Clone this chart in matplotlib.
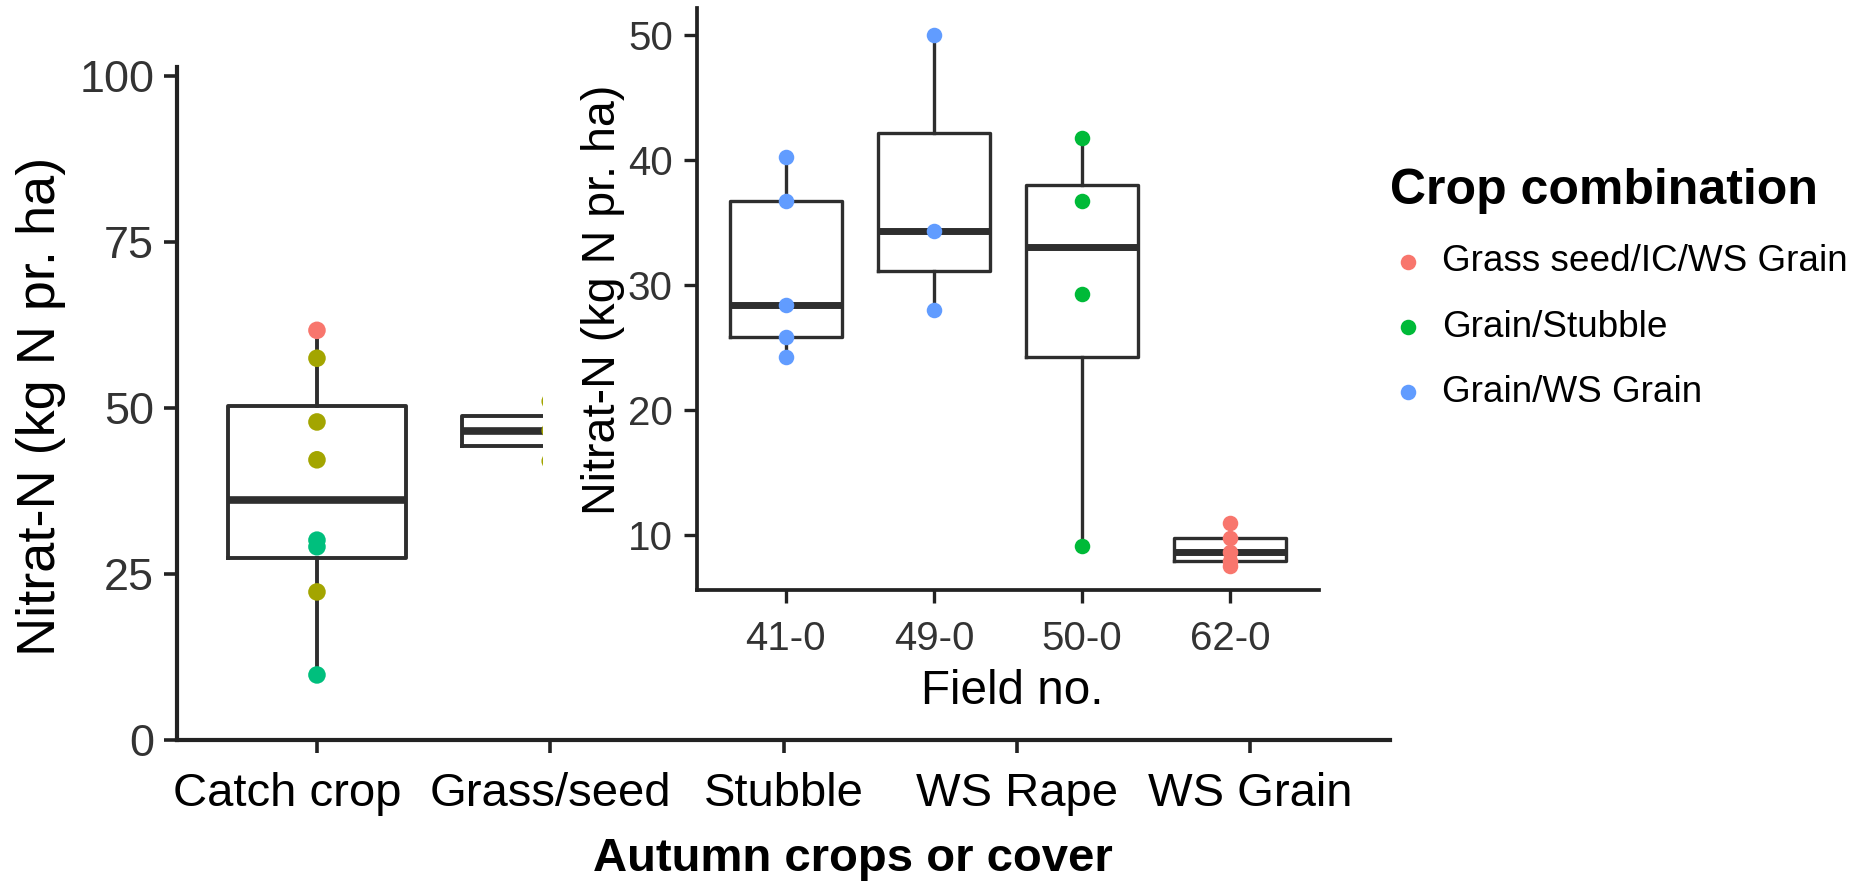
import matplotlib
matplotlib.use("Agg")
import matplotlib.pyplot as plt
import matplotlib.transforms as mtransforms
from matplotlib.patches import Rectangle

plt.rcParams['font.family'] = ['Liberation Sans', 'DejaVu Sans']

# ---------------- data ----------------
main_categories = ["Catch crop", "Grass/seed", "Stubble", "WS Rape", "WS Grain"]
main_yticks = [0, 25, 50, 75, 100]
catch_crop_values = [61.7, 57.5, 47.9, 42.2, 30.1, 29.1, 22.3, 9.8]
catch_crop_groups = [0, 1, 1, 1, 2, 2, 1, 2]
grass_seed_values = [51.0, 46.6, 42.0]
grass_seed_groups = [1, 1, 1]
main_palette = ["#F8766D", "#A3A500", "#00BF7D"]

inset_fields = ["41-0", "49-0", "50-0", "62-0"]
inset_yticks = [10, 20, 30, 40, 50]
field_41_0 = [40.2, 36.7, 28.4, 25.8, 24.2]
field_49_0 = [50.0, 34.3, 28.0]
field_50_0 = [41.8, 36.7, 29.3, 9.1]
field_62_0 = [11.0, 9.75, 8.65, 7.9, 7.5]
inset_field_groups = [2, 2, 1, 0]
legend_groups = ["Grass seed/IC/WS Grain", "Grain/Stubble", "Grain/WS Grain"]
legend_colors = ["#F8766D", "#00BA38", "#619CFF"]

# ---------------- figure ----------------
W, H = 1860, 882
fig = plt.figure(figsize=(W / 100, H / 100), dpi=100)

def fx(px):
    return px / W

def fy(py):
    return 1 - py / H

box_col = "#2e2e2e"
tick_col = "#333333"

# ---------- main axes ----------
ax = fig.add_axes([fx(177), fy(740), (1390 - 177) / W, (740 - 67.4) / H], zorder=0)
main_data = [catch_crop_values, grass_seed_values]
ax.boxplot(main_data, positions=[1, 2], widths=0.76, showcaps=False, showfliers=False,
           boxprops=dict(color=box_col, linewidth=2.8),
           whiskerprops=dict(color=box_col, linewidth=2.8),
           medianprops=dict(color=box_col, linewidth=5.5))
for pos, vals, grps in [(1, catch_crop_values, catch_crop_groups),
                        (2, grass_seed_values, grass_seed_groups)]:
    ax.scatter([pos] * len(vals), vals, s=160, c=[main_palette[g] for g in grps],
               linewidths=0, zorder=3)
ax.set_xlim(0.4, 5.6)
ax.set_ylim(0, 101.3)
ax.set_xticks(range(1, len(main_categories) + 1))
ax.set_xticklabels(main_categories)
ax.set_yticks(main_yticks)
ax.tick_params(axis='y', labelsize=32.4, length=9.4, width=2.6, pad=7, colors="#222222",
               labelcolor=tick_col)
ax.tick_params(axis='x', labelsize=34, length=9.4, width=2.6, pad=13.7, colors="#222222",
               labelcolor="black")
for s in ["top", "right"]:
    ax.spines[s].set_visible(False)
for s in ["left", "bottom"]:
    ax.spines[s].set_linewidth(3.0)
    ax.spines[s].set_color("#222222")
lab0 = ax.get_xticklabels()[0]
lab0.set_transform(lab0.get_transform() +
                   mtransforms.ScaledTranslation(-0.30, 0, fig.dpi_scale_trans))

fig.text(fx(41), fy(406), "Nitrat-N (kg N pr. ha)", rotation=90, ha="center", va="center",
         fontsize=39)
fig.text(fx(853), fy(871), "Autumn crops or cover", ha="center", va="baseline",
         fontsize=34, fontweight="bold")

# ---------- white panel of the inset ----------
fig.add_artist(Rectangle((fx(543), fy(728)), 1 - fx(543), 728 / H, transform=fig.transFigure,
                         facecolor="white", edgecolor="none", zorder=1))

# ---------- inset axes ----------
ax2 = fig.add_axes([fx(697), fy(590), 622 / W, (590 - 8) / H], zorder=2)
ax2.patch.set_alpha(0)
inset_data = [field_41_0, field_49_0, field_50_0, field_62_0]
ax2.boxplot(inset_data, positions=[1, 2, 3, 4], widths=0.76, showcaps=False, showfliers=False,
            boxprops=dict(color=box_col, linewidth=2.4),
            whiskerprops=dict(color=box_col, linewidth=2.4),
            medianprops=dict(color=box_col, linewidth=5.0))
handles = {}
for i, (vals, g) in enumerate(zip(inset_data, inset_field_groups)):
    h = ax2.scatter([i + 1] * len(vals), vals, s=125, color=legend_colors[g], linewidths=0,
                    zorder=3, label=legend_groups[g])
    handles.setdefault(g, h)
ax2.set_xlim(0.4, 4.6)
ax2.set_ylim(5.6, 52.16)
ax2.set_xticks(range(1, len(inset_fields) + 1))
ax2.set_xticklabels(inset_fields)
ax2.set_yticks(inset_yticks)
ax2.tick_params(axis='both', labelsize=29, length=9.4, width=2.4, colors="#222222",
                labelcolor=tick_col)
ax2.tick_params(axis='y', pad=8)
ax2.tick_params(axis='x', pad=12)
for s in ["top", "right"]:
    ax2.spines[s].set_visible(False)
for s in ["left", "bottom"]:
    ax2.spines[s].set_linewidth(2.7)
    ax2.spines[s].set_color("#222222")

fig.text(fx(603), fy(300), "Nitrat-N (kg N pr. ha)", rotation=90, ha="center", va="center",
         fontsize=33.6, zorder=3)
fig.text(fx(1012), fy(704), "Field no.", ha="center", va="baseline", fontsize=34.3, zorder=3)

leg = fig.legend([handles[g] for g in range(3)], legend_groups, loc="upper left",
                 bbox_to_anchor=(fx(1390), fy(168)), bbox_transform=fig.transFigure,
                 frameon=False, borderpad=0, borderaxespad=0, handlelength=1.0,
                 handletextpad=0.4, labelspacing=0.82, prop={"size": 26.6},
                 title="Crop combination",
                 title_fontproperties={"weight": "bold", "size": 36},
                 alignment="left", scatterpoints=1)
leg.set_zorder(4)

fig.savefig("out.png", dpi=100)
